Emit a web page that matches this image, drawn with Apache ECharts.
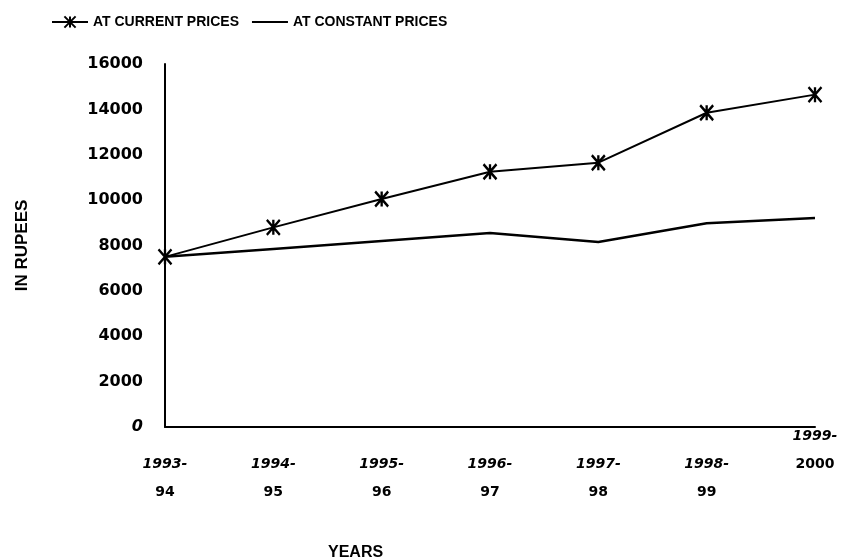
<!DOCTYPE html>
<html><head><meta charset="utf-8">
<script src="https://cdn.jsdelivr.net/npm/echarts@6/dist/echarts.min.js"></script>
<style>html,body{margin:0;padding:0;background:#fff}#c{width:843px;height:559px}</style>
</head><body><div id="c"></div>
<script>
const years = ['1993-94','1994-95','1995-96','1996-97','1997-98','1998-99','1999-2000'];
const currentPrices = [7500, 8800, 10050, 11250, 11650, 13850, 14650];
const constantPrices = [7500, 7850, 8200, 8550, 8150, 8980, 9210];
const yTicks = [0, 2000, 4000, 6000, 8000, 10000, 12000, 14000, 16000];
const seriesNames = ['AT CURRENT PRICES', 'AT CONSTANT PRICES'];

const sans = '"Liberation Sans",Arial,sans-serif';
const dv = '"DejaVu Sans",sans-serif';
const chart = echarts.init(document.getElementById('c'));
const star = 'path://M0,0L10,12M10,0L0,12M5,0L5,12';
chart.setOption({
  animation: false,
  backgroundColor: '#fff',
  grid: {left: 165, right: 28, top: 64, bottom: 132},
  legend: {
    left: 46, top: 10, itemWidth: 36, itemHeight: 14, itemGap: 12,
    textStyle: {fontFamily: sans, fontWeight: 'bold', fontSize: 14, color: '#000'},
    data: [
      {name: seriesNames[0]},
      {name: seriesNames[1], itemStyle: {color: 'rgba(0,0,0,0)', borderWidth: 0, opacity: 0}}
    ]
  },
  title: {
    text: 'YEARS', left: 323, top: 540,
    textStyle: {fontFamily: sans, fontWeight: 'bold', fontSize: 16, color: '#000'}
  },
  xAxis: {
    type: 'category', data: years, boundaryGap: false,
    axisLine: {lineStyle: {color: '#000', width: 2}},
    axisTick: {show: false},
    axisLabel: {
      interval: 0, margin: -5,
      formatter: function (v, i) {
        const p = v.split('-');
        const s = '{a|' + p[0] + '-}\n{b|' + p[1] + '}';
        return i === years.length - 1 ? s : '{e| }\n' + s;
      },
      rich: {
        e: {fontSize: 14, lineHeight: 28},
        a: {fontFamily: dv, fontWeight: 'bold', fontStyle: 'italic', fontSize: 14, lineHeight: 28, color: '#000'},
        b: {fontFamily: dv, fontWeight: 'bold', fontSize: 14, lineHeight: 28, color: '#000'}
      }
    },
    splitLine: {show: false}
  },
  yAxis: {
    type: 'value', min: yTicks[0], max: yTicks[yTicks.length - 1], interval: yTicks[1] - yTicks[0],
    name: 'IN RUPEES', nameLocation: 'middle', nameRotate: 90, nameGap: 134,
    nameTextStyle: {fontFamily: sans, fontWeight: 'bold', fontSize: 17, color: '#000'},
    axisLine: {show: true, lineStyle: {color: '#000', width: 2}},
    axisTick: {show: false},
    splitLine: {show: false},
    axisLabel: {
      margin: 22,
      formatter: function (v) { return v === 0 ? '{i|0}' : '{n|' + v + '}'; },
      rich: {
        n: {fontFamily: dv, fontWeight: 'bold', fontSize: 16, color: '#000'},
        i: {fontFamily: dv, fontWeight: 'bold', fontStyle: 'italic', fontSize: 16, color: '#000'}
      }
    }
  },
  series: [
    {
      name: seriesNames[0], type: 'line', data: currentPrices,
      symbol: star, symbolSize: [13, 15], showSymbol: true,
      lineStyle: {color: '#000', width: 2},
      itemStyle: {color: '#000', borderColor: '#000', borderWidth: 2.5},
      z: 3
    },
    {
      name: seriesNames[1], type: 'line', data: constantPrices,
      symbol: 'none',
      lineStyle: {color: '#000', width: 2.5},
      itemStyle: {color: '#000'}
    }
  ]
});
</script></body></html>
